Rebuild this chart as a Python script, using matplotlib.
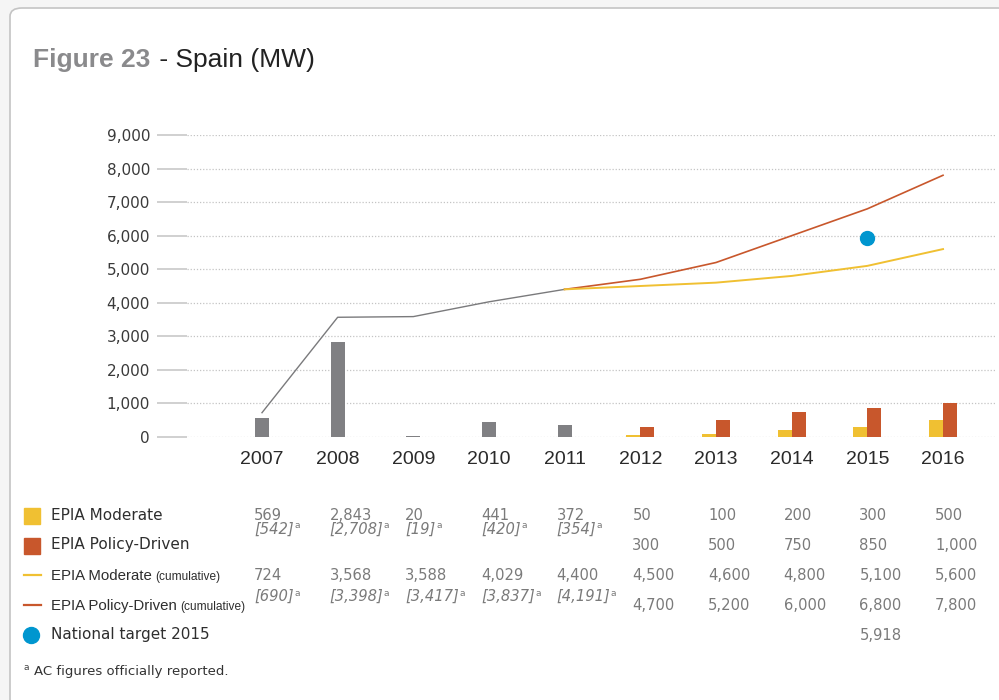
import matplotlib
matplotlib.use("Agg")
import matplotlib.pyplot as plt
from matplotlib.patches import FancyBboxPatch, Rectangle
from matplotlib.lines import Line2D
import matplotlib.transforms as mtransforms

# ---------------- data ----------------
years = ["2007", "2008", "2009", "2010", "2011", "2012", "2013", "2014", "2015", "2016"]
hist_annual = [569, 2843, 20, 441, 372]            # 2007-2011 (DC)
hist_annual_ac = [542, 2708, 19, 420, 354]         # AC figures
hist_cum = [724, 3568, 3588, 4029, 4400]
hist_cum_ac = [690, 3398, 3417, 3837, 4191]
mod_annual = [50, 100, 200, 300, 500]              # 2012-2016
pol_annual = [300, 500, 750, 850, 1000]
mod_cum = [4500, 4600, 4800, 5100, 5600]
pol_cum = [4700, 5200, 6000, 6800, 7800]
target_2015 = 5918
yticks = [0, 1000, 2000, 3000, 4000, 5000, 6000, 7000, 8000, 9000]

GREY = "#808083"
YEL = "#F0C032"
ORA = "#C8572C"
BLUE = "#0096CF"

W, H = 999, 700
fig = plt.figure(figsize=(W / 100, H / 100), dpi=100, facecolor="#f5f5f5")

def fx(x):
    return x / W

def fy(y):
    return 1 - y / H

# frame
frame = FancyBboxPatch((fx(10), fy(712)), fx(1010) - fx(10), fy(8) - fy(712),
                       boxstyle="round,pad=0,rounding_size=0.012",
                       transform=fig.transFigure, facecolor="white",
                       edgecolor="#c4c4c4", linewidth=1.2, zorder=-10, clip_on=False)
fig.patches.append(frame)

# ---------------- axes ----------------
ax = fig.add_axes([fx(187), fy(437), fx(995) - fx(187), fy(135) - fy(437)])
ax.set_facecolor("none")
x_all = list(range(len(years)))
x_hist = x_all[:5]
x_proj = x_all[5:]
bw = 0.185

ax.bar(x_hist, hist_annual, width=bw, color=GREY, zorder=3)
ax.bar([x - bw / 2 for x in x_proj], mod_annual, width=bw, color=YEL, zorder=3)
ax.bar([x + bw / 2 for x in x_proj], pol_annual, width=bw, color=ORA, zorder=3)

ax.plot(x_hist, hist_cum, color="#7a7a7c", lw=1.0, zorder=4)
ax.plot([x_hist[-1]] + x_proj, [hist_cum[-1]] + pol_cum, color=ORA, lw=1.2, zorder=4)
ax.plot([x_hist[-1]] + x_proj, [hist_cum[-1]] + mod_cum, color=YEL, lw=1.4, zorder=5)
ax.plot([x_proj[3]], [target_2015], "o", color=BLUE, ms=10, zorder=6)

ax.set_xlim(-0.991, 9.687)
ax.set_ylim(0, 9000)
ax.set_yticks(yticks)
ax.set_yticklabels([f"{v:,}" for v in yticks], fontsize=11, color="#3a3a3a",
                   family="DejaVu Sans")
ax.tick_params(axis="y", length=21.6, width=1.1, color="#c4c4c4", pad=5)
ax.set_xticks(x_all)
ax.set_xticklabels(years, fontsize=14, color="#2a2a2a", family="Liberation Sans")
ax.tick_params(axis="x", length=0, pad=10)
for s in ax.spines.values():
    s.set_visible(False)
ax.grid(axis="y", linestyle=(0, (1, 1.5)), color="#c4c4c4", lw=0.9, zorder=0)
ax.set_axisbelow(True)

# ---------------- title ----------------
fig.canvas.draw()
renderer = fig.canvas.get_renderer()

t1 = fig.text(fx(33), fy(67), "Figure 23", fontsize=19, fontweight="bold",
              color="#8a8a8c", family="Liberation Sans", va="baseline", ha="left")
ext = t1.get_window_extent(renderer)
fig.text(fx(ext.x1 + 2), fy(67), " - Spain (MW)", fontsize=19,
         color="#222222", family="Liberation Sans", va="baseline", ha="left")

# ---------------- legend rows ----------------
fig.patches.append(Rectangle((fx(24), fy(524)), fx(16), fy(508) - fy(524),
                             transform=fig.transFigure, color=YEL))
fig.patches.append(Rectangle((fx(24), fy(554)), fx(16), fy(538) - fy(554),
                             transform=fig.transFigure, color=ORA))
fig.lines.append(Line2D([fx(24), fx(41)], [fy(575), fy(575)], transform=fig.transFigure,
                        color=YEL, lw=1.6))
fig.lines.append(Line2D([fx(24), fx(41)], [fy(605), fy(605)], transform=fig.transFigure,
                        color=ORA, lw=1.6))
fig.lines.append(Line2D([fx(31)], [fy(635)], transform=fig.transFigure, marker="o",
                        ms=11.5, color=BLUE, lw=0))

lab_kw = dict(color="#2e2e2e", ha="left", va="center")
fig.text(fx(51), fy(515), "EPIA Moderate", fontsize=11, family="DejaVu Sans", **lab_kw)
fig.text(fx(51), fy(545), "EPIA Policy-Driven", fontsize=11, family="DejaVu Sans", **lab_kw)
fig.text(fx(51), fy(635), "National target 2015", fontsize=11, family="DejaVu Sans", **lab_kw)
for ypx, main in [(580, "EPIA Moderate"), (610, "EPIA Policy-Driven")]:
    tt = fig.text(fx(51), fy(ypx), main, fontsize=10.8, family="Liberation Sans",
                  color="#2e2e2e", ha="left", va="baseline")
    e = tt.get_window_extent(renderer)
    fig.text(fx(e.x1 + 3), fy(ypx), "(cumulative)", fontsize=8.6, family="Liberation Sans",
             color="#2e2e2e", ha="left", va="baseline")

# ---------------- table numbers ----------------
col_tr = mtransforms.blended_transform_factory(ax.transData, fig.transFigure)
num_kw = dict(fontsize=10.6, family="DejaVu Sans", color="#7a7a7a", ha="left", va="center")
shift = mtransforms.ScaledTranslation(-8 / 100, 0, fig.dpi_scale_trans)
tr = col_tr + shift

def put(i, ypx, s, italic=False, sup=False):
    t = fig.text(i, fy(ypx), s, transform=tr, style="italic" if italic else "normal",
                 **num_kw)
    if sup:
        e = t.get_window_extent(renderer)
        fig.text(fx(e.x1 + 0.5), fy(ypx - 3), "a", fontsize=6.5, family="DejaVu Sans",
                 color="#7a7a7a", ha="left", va="center")

for i in range(5):
    put(x_hist[i], 515, f"{hist_annual[i]:,}")
    put(x_hist[i], 529, f"[{hist_annual_ac[i]:,}]", italic=True, sup=True)
    put(x_hist[i], 575, f"{hist_cum[i]:,}")
    put(x_hist[i], 596, f"[{hist_cum_ac[i]:,}]", italic=True, sup=True)
for j, i in enumerate(x_proj):
    put(i, 515, f"{mod_annual[j]:,}")
    put(i, 545, f"{pol_annual[j]:,}")
    put(i, 575, f"{mod_cum[j]:,}")
    put(i, 605, f"{pol_cum[j]:,}")
put(x_proj[3], 635, f"{target_2015:,}")

# ---------------- footnote ----------------
fig.text(fx(24), fy(668), "a", fontsize=6.5, family="DejaVu Sans", color="#444444",
         ha="left", va="center")
fig.text(fx(34), fy(672), "AC figures officially reported.", fontsize=9.5,
         family="DejaVu Sans", color="#333333", ha="left", va="center")

fig.savefig("out.png", dpi=100, facecolor=fig.get_facecolor())
